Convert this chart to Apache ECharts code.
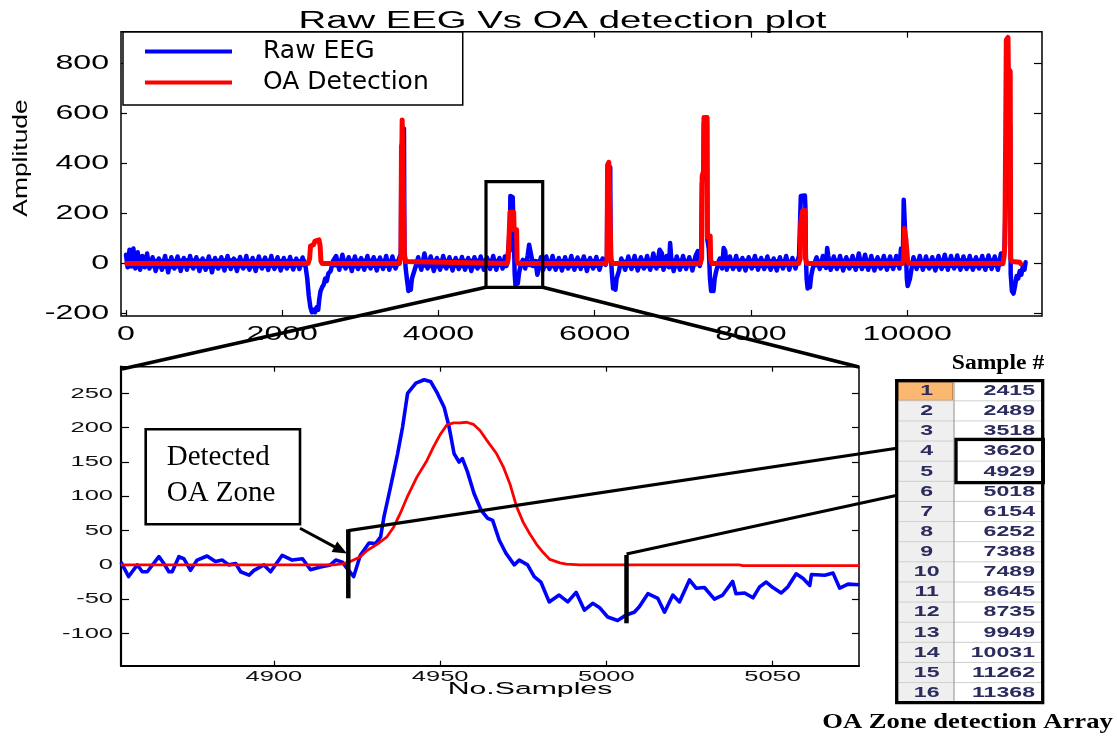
<!DOCTYPE html>
<html><head><meta charset="utf-8">
<script src="https://cdn.jsdelivr.net/npm/echarts@6/dist/echarts.min.js"></script>
<style>html,body{margin:0;padding:0;background:#fff}#main{width:1117px;height:740px}</style>
</head><body><div id="main"></div><script>
// ---------- data ----------
const topXTicks = [0, 2000, 4000, 6000, 8000, 10000];
const topYTicks = [-200, 0, 200, 400, 600, 800];
const zoomXTicks = [4900, 4950, 5000, 5050];
const zoomYTicks = [-100, -50, 0, 50, 100, 150, 200, 250];
const topXRange = [-64, 11725];
const topYRange = [-210, 928];
const zoomXRange = [4854, 5076];
const zoomYRange = [-147, 289];

const oaZoneIndex = [1, 2, 3, 4, 5, 6, 7, 8, 9, 10, 11, 12, 13, 14, 15, 16];
const oaZoneSamples = [2415, 2489, 3518, 3620, 4929, 5018, 6154, 6252, 7388, 7489, 8645, 8735, 9949, 10031, 11262, 11368];

// raw EEG trace (sample, amplitude)
const rawEEG = [
[0,35],[20,-15],[45,55],[70,-10],[95,60],[120,-20],[150,45],[180,-25],[210,30],[240,-15],[270,40],[300,-20],
[340,25],[380,-30],[420,20],[460,-25],[500,30],[540,-35],[580,25],[620,-20],[660,28],[700,-30],[740,22],[780,-25],[820,30],[860,-20],[900,25],[940,-30],[980,20],[1020,-25],[1060,28],[1100,-35],[1140,22],[1180,-20],[1220,25],[1260,-28],[1300,30],[1340,-22],[1380,20],[1420,-30],[1460,26],[1500,-20],[1540,30],[1580,-25],[1620,22],[1660,-30],[1700,28],[1740,-20],[1780,24],[1820,-26],[1860,30],[1900,-22],[1940,25],[1980,-28],[2020,22],[2060,-20],[2100,26],[2140,-24],[2180,20],[2220,-22],[2260,24],[2300,-15],
[2320,-60],[2340,-130],[2360,-175],[2380,-195],[2400,-185],[2420,-195],[2440,-175],[2460,-185],[2475,-140],[2490,-110],[2510,-95],[2530,-85],[2550,-60],[2570,-70],[2590,-40],[2620,-30],[2650,10],
[2690,30],[2730,-25],[2770,35],[2810,-20],[2850,25],[2890,-30],[2930,28],[2970,-22],[3010,22],[3050,-25],[3090,30],[3130,-20],[3170,25],[3210,-28],[3250,24],[3290,-22],[3330,30],[3370,-25],[3410,28],[3450,-20],[3490,15],
[3518,40],[3525,420],[3540,520],[3558,540],[3564,60],[3580,-20],[3595,-60],[3615,-110],[3630,-95],[3645,-105],[3660,-60],[3680,-40],[3700,-20],
[3740,25],[3780,-25],[3820,40],[3860,-20],[3900,28],[3940,-30],[3980,22],[4020,-25],[4060,30],[4100,-20],[4140,25],[4180,-28],[4220,22],[4260,-22],[4300,26],[4340,-25],[4380,22],[4420,-30],[4460,25],[4500,-20],[4540,28],[4580,-25],[4620,24],[4660,-22],[4700,30],[4740,-25],[4780,22],[4820,-20],[4850,28],[4870,-10],
[4880,15],[4895,60],[4905,105],[4912,50],[4920,270],[4935,275],[4950,265],[4960,140],[4968,60],[4975,-40],[4985,-86],[5000,-60],[5015,-80],[5030,-40],[5050,-10],[5080,15],[5110,-20],[5140,30],[5160,75],[5180,70],[5195,20],[5210,-10],[5240,10],[5265,-45],[5285,-20],[5310,25],
[5340,-25],[5380,28],[5420,-22],[5460,30],[5500,-25],[5540,22],[5580,-28],[5620,25],[5660,-20],[5700,30],[5740,-25],[5780,24],[5820,-22],[5860,28],[5900,-30],[5940,22],[5980,-20],[6020,26],[6060,-25],[6100,20],[6140,-5],
[6156,30],[6162,310],[6168,380],[6198,385],[6204,40],[6220,-40],[6235,-100],[6250,-85],[6265,-105],[6280,-60],[6310,-30],[6340,20],
[6390,-25],[6430,28],[6470,-22],[6510,30],[6550,-28],[6590,25],[6630,-20],[6670,30],[6710,-25],[6750,40],[6790,-20],[6830,55],[6860,40],[6880,-25],[6920,30],[6950,-15],[6965,82],[6980,20],[7010,-30],[7050,28],[7090,-25],[7130,30],[7170,-22],[7210,25],[7250,-28],[7290,30],[7320,50],[7345,-10],
[7362,30],[7372,320],[7392,360],[7397,560],[7436,565],[7442,95],[7460,60],[7475,-60],[7490,-110],[7505,-95],[7520,-110],[7535,-60],[7555,-30],
[7600,20],[7630,-20],[7650,62],[7670,50],[7690,-25],[7730,28],[7770,-22],[7810,30],[7850,-25],[7890,22],[7930,-28],[7970,25],[8010,-20],[8050,30],[8090,-25],[8130,22],[8170,-22],[8210,28],[8250,-25],[8290,20],[8330,-28],[8370,25],[8410,-20],[8450,30],[8490,-25],[8530,22],[8570,-20],[8600,15],
[8615,30],[8638,270],[8690,272],[8696,230],[8702,40],[8712,-60],[8725,-100],[8740,-80],[8755,-95],[8770,-50],[8790,-20],
[8840,25],[8880,-22],[8920,30],[8960,-18],[8975,62],[8990,30],[9020,-25],[9060,28],[9100,-22],[9140,30],[9180,-28],[9220,25],[9260,-20],[9300,30],[9340,-25],[9380,40],[9420,-22],[9460,35],[9500,-25],[9540,30],[9580,-28],[9620,25],[9660,-20],[9700,30],[9740,-25],[9780,28],[9820,-22],[9860,30],[9900,-20],[9920,60],[9935,20],
[9945,40],[9955,255],[9968,258],[9974,120],[9985,30],[9995,-60],[10005,-90],[10020,-95],[10035,-60],[10050,-30],
[10080,25],[10120,-22],[10160,30],[10200,-25],[10240,28],[10280,-20],[10320,25],[10360,-28],[10400,30],[10440,-22],[10480,35],[10520,-25],[10560,30],[10600,-20],[10640,32],[10680,-25],[10720,28],[10760,-22],[10800,30],[10840,-25],[10880,25],[10920,-20],[10960,30],[11000,-25],[11040,32],[11080,-22],[11120,28],[11160,-25],[11200,40],[11230,20],[11245,65],
[11258,60],[11266,320],[11272,560],[11300,600],[11318,550],[11324,-40],[11340,-110],[11360,-120],[11380,-90],[11400,-50],[11420,-60],[11440,-30],[11460,-45],[11480,-10],[11500,-25],[11515,5]
];

// dense noise floor of the raw EEG between artefacts: [sample, lower, upper]
const eegNoiseBand = [
  [[0,-20,40],[150,-20,40],[300,-18,20],[550,-22,18],[800,-18,22],[1050,-22,18],[1300,-18,22],[1550,-20,18],[1800,-18,20],[2050,-20,18],[2300,-12,18]],
  [[2650,-15,15],[2900,-20,20],[3150,-18,20],[3400,-18,18],[3490,-12,15]],
  [[3700,-15,15],[3950,-20,20],[4200,-18,18],[4450,-20,20],[4700,-18,20],[4880,-10,15]],
  [[5050,-12,12],[5300,-18,18],[5550,-20,18],[5800,-18,20],[6050,-18,18],[6140,-5,10]],
  [[6340,-15,15],[6600,-20,20],[6850,-18,22],[7100,-20,20],[7345,-10,15]],
  [[7560,-15,15],[7800,-20,20],[8050,-18,20],[8300,-20,18],[8600,-10,15]],
  [[8800,-15,15],[9050,-20,20],[9300,-18,20],[9550,-20,20],[9800,-18,20],[9935,-10,15]],
  [[10050,-15,15],[10300,-20,20],[10550,-18,22],[10800,-20,20],[11050,-18,22],[11240,-10,18]]
];

const oaDetection = [
[10,0],[2330,0],[2350,20],[2362,70],[2400,75],[2420,90],[2470,95],[2485,70],[2495,10],[2510,0],
[3500,0],[3520,30],[3526,470],[3532,480],[3535,575],[3560,580],[3564,30],[3580,8],[3600,0],
[4880,0],[4893,20],[4915,205],[4940,208],[4962,205],[4968,135],[5000,135],[5006,10],[5020,0],
[6140,0],[6158,15],[6164,395],[6180,405],[6202,400],[6208,20],[6225,0],
[7350,0],[7368,20],[7375,350],[7392,370],[7398,585],[7438,585],[7442,105],[7478,110],[7484,15],[7500,0],
[8610,0],[8630,20],[8636,160],[8655,165],[8660,210],[8692,212],[8698,20],[8715,0],
[9940,0],[9955,20],[9962,140],[9978,145],[9982,100],[9998,105],[10004,15],[10020,0],
[11225,0],[11240,30],[11250,80],[11262,85],[11268,895],[11290,905],[11294,780],[11318,770],[11324,20],[11340,8],[11440,5],[11450,0]
];

const rawEEGZoom = [
[4854,4],[4856.3,-17],[4858.9,0],[4860.4,-10],[4861.9,-10],[4865.4,12],[4866.9,2],[4868.4,-10],[4869.4,-10],[4871.4,12],[4872.9,9],[4874.9,-8],[4876.9,7],[4879.9,13],[4882.4,5],[4884.5,7],[4886.4,0],[4888.5,2],[4890,-10],[4892.5,-15],[4894,-8],[4897,0],[4899,-10],[4902.5,14],[4905.5,7],[4908.6,9],[4911,-7],[4914,-3],[4917,0],[4918.6,7],[4920.6,4],[4922,-5],[4924,-17],[4926,14],[4928.6,32],[4930.6,31],[4932.1,41],[4933.1,70],[4935.1,114],[4937.2,162],[4938.7,201],[4940.2,250],[4942.7,265],[4945.2,270],[4947.2,267],[4949.2,250],[4951.2,230],[4952.7,201],[4954.2,162],[4955.7,150],[4956.7,155],[4958.2,136],[4960.2,104],[4962.3,80],[4964.3,68],[4965.8,65],[4967.8,36],[4969.8,17],[4972.3,0],[4973.8,7],[4976.3,0],[4978.3,-17],[4980.3,-25],[4982.8,-54],[4985.8,-44],[4988.4,-54],[4990.9,-40],[4993.4,-66],[4995.9,-56],[4997.9,-62],[5000.4,-76],[5003.4,-81],[5005.9,-73],[5008.4,-69],[5009.9,-61],[5012.5,-42],[5015.5,-49],[5017.5,-69],[5020,-44],[5022,-54],[5025,-22],[5027,-34],[5029.5,-33],[5032.5,-50],[5035,-44],[5038,-24],[5039,-42],[5041.6,-41],[5044.1,-48],[5046.1,-32],[5048.1,-25],[5050.1,-33],[5052.6,-41],[5054.6,-32],[5057.1,-13],[5059.2,-20],[5061.2,-30],[5061.7,-14],[5065.7,-15],[5068.2,-12],[5070.2,-34],[5072.7,-28],[5076.1,-29]
];

const oaDetectionZoom = [
[4854,0],[4918,0],[4921,2],[4923,5],[4926,12],[4928,21],[4931,30],[4934,41],[4936,55],[4938,75],[4940,98],[4943,128],[4946,152],[4948,172],[4950,190],[4952,204],[4954,207],[4956,207],[4958,208],[4960,205],[4962,196],[4964,182],[4967,162],[4969,143],[4971,118],[4973,85],[4975,62],[4977,45],[4979,30],[4981,18],[4983,8],[4986,3],[4988,1],[4992,0],[5040,0],[5041,-1],[5076,-1]
];

// ---------- chart ----------
const SANS = '"Liberation Sans", Arial, Helvetica, sans-serif';
const SERIF = '"Liberation Serif", "Times New Roman", serif';
const BLUE = '#0000ff', RED = '#ff0000';
const chart = echarts.init(document.getElementById('main'));

function ax(grid, range, ticks, pos, tlen, line) {
  return {
    gridIndex: grid, type: 'value', min: range[0], max: range[1], position: pos,
    axisLine: { show: !!line, onZero: false, lineStyle: { color: '#000', width: line || 1 } },
    axisTick: { show: true, inside: true, length: tlen, customValues: ticks, lineStyle: { color: '#000', width: 1.2 } },
    axisLabel: { show: false }, splitLine: { show: false }
  };
}

const option = {
  animation: false,
  backgroundColor: '#fff',
  grid: [
    { left: 121, top: 31.7, width: 921, height: 284.3, show: true, borderColor: '#000', borderWidth: 1.5 },
    { left: 121, top: 366.7, width: 738, height: 299, show: true, borderColor: '#000', borderWidth: 1.5 }
  ],
  legend: {
    data: ['Raw EEG', 'OA Detection'],
    orient: 'vertical', left: 123, top: 32,
    backgroundColor: '#fff', borderColor: '#000', borderWidth: 1.5,
    padding: [7, 34, 10, 22],
    icon: 'rect',
    itemWidth: 87, itemHeight: 4, itemGap: 6,
    selectedMode: false,
    formatter: n => '{t|' + n + '}',
    textStyle: { rich: { t: { fontFamily: '"DejaVu Sans", sans-serif', fontSize: 25, color: '#000', padding: [0, 0, 0, 26], lineHeight: 22 } } }
  },
  xAxis: [
    ax(0, topXRange, topXTicks, 'bottom', 6),
    ax(0, topXRange, topXTicks, 'top', 6),
    ax(1, zoomXRange, zoomXTicks, 'bottom', 5, 2.2),
    ax(1, zoomXRange, zoomXTicks, 'top', 5)
  ],
  yAxis: [
    ax(0, topYRange, topYTicks, 'left', 6),
    ax(0, topYRange, topYTicks, 'right', 8),
    ax(1, zoomYRange, zoomYTicks, 'left', 8, 2.2),
    ax(1, zoomYRange, zoomYTicks, 'right', 7)
  ],
  series: [
    { type: 'line', name: 'Raw EEG', xAxisIndex: 0, yAxisIndex: 0, data: rawEEG, symbol: 'none', silent: true, z: 2,
      itemStyle: { color: BLUE }, lineStyle: { color: BLUE, width: 4.5, join: 'round', cap: 'round' } },
    { type: 'custom', xAxisIndex: 0, yAxisIndex: 0, silent: true, z: 2,
      data: eegNoiseBand.map(s => [s[0][0], 0]),
      renderItem: function (params, api) {
        const seg = eegNoiseBand[params.dataIndex];
        const pts = seg.map(p => api.coord([p[0], p[2]]))
          .concat(seg.slice().reverse().map(p => api.coord([p[0], p[1]])));
        return { type: 'polygon', shape: { points: pts }, style: { fill: BLUE } };
      } },
    { type: 'line', name: 'OA Detection', xAxisIndex: 0, yAxisIndex: 0, data: oaDetection, symbol: 'none', silent: true, z: 3,
      itemStyle: { color: RED }, lineStyle: { color: RED, width: 5, join: 'round', cap: 'round' } },
    { type: 'line', name: 'Raw EEG', xAxisIndex: 2, yAxisIndex: 2, data: rawEEGZoom, symbol: 'none', silent: true, z: 2,
      itemStyle: { color: BLUE }, lineStyle: { color: BLUE, width: 3.6, join: 'round' } },
    { type: 'line', name: 'OA Detection', xAxisIndex: 2, yAxisIndex: 2, data: oaDetectionZoom, symbol: 'none', silent: true, z: 3,
      itemStyle: { color: RED }, lineStyle: { color: RED, width: 2.8, join: 'round' } }
  ]
};
chart.setOption(option);

// ---------- text & annotations ----------
function T(x, y, text, o) {
  const al = o.align || 'center';
  return { type: 'text', x: x, y: y, rotation: o.rot || 0, scaleX: o.sx || 1, scaleY: o.sy || 1, z: o.z || 100, silent: true,
    style: { text: text, x: 0, y: 0, fill: o.color || '#000', fontSize: o.size, fontFamily: o.family || SANS,
      fontWeight: o.weight || 'normal', textAlign: al, align: al, textVerticalAlign: 'middle', verticalAlign: 'middle' } };
}
function L(x1, y1, x2, y2, w) {
  return { type: 'line', z: 100, silent: true, shape: { x1: x1, y1: y1, x2: x2, y2: y2 }, style: { stroke: '#000', lineWidth: w, lineCap: 'butt' } };
}
function R(x, y, w, h, o) {
  return { type: 'rect', z: o.z || 100, silent: true, shape: { x: x, y: y, width: w, height: h },
    style: { fill: o.fill || 'none', stroke: o.stroke || null, lineWidth: o.lw || 0 } };
}

const g = [];
// tick labels placed through the axes' scales
topXTicks.forEach(v => g.push(T(chart.convertToPixel({ xAxisIndex: 0 }, v), 334, String(v), { size: 21, sx: 1.53 })));
topYTicks.forEach(v => g.push(T(109, chart.convertToPixel({ yAxisIndex: 0 }, v), String(v), { size: 21, sx: 1.53, align: 'right' })));
zoomXTicks.forEach(v => g.push(T(chart.convertToPixel({ xAxisIndex: 2 }, v), 677, String(v), { size: 15, sx: 1.7, color: '#111' })));
zoomYTicks.forEach(v => g.push(T(113, chart.convertToPixel({ yAxisIndex: 2 }, v), String(v), { size: 15, sx: 1.7, align: 'right', color: '#111' })));

// titles
g.push(T(562.5, 21.5, 'Raw EEG Vs OA detection plot', { size: 23.5, sx: 1.63 }));
g.push(T(21, 158, 'Amplitude', { size: 22, rot: Math.PI / 2, sx: 1.2, sy: 0.95 }));
g.push(T(530, 689, 'No.Samples', { size: 16.8, sx: 1.8 }));

// zoom box and connector lines
g.push(R(486, 181.7, 56.7, 105.6, { stroke: '#000', lw: 3.2 }));
g.push(L(486, 287.3, 122, 369, 3.5));
g.push(L(542.7, 287.3, 859, 367, 3.5));

// Detected OA zone annotation
g.push(R(145.7, 429.3, 154.3, 95, { fill: '#fff', stroke: '#000', lw: 2.6 }));
g.push(T(166.7, 457.5, 'Detected', { size: 29, family: SERIF, align: 'left' }));
g.push(T(166.7, 493.5, 'OA Zone', { size: 29, family: SERIF, align: 'left' }));
g.push(L(300, 528.3, 336, 547.6, 3));
g.push({ type: 'polygon', z: 100, silent: true, shape: { points: [[347, 553.5], [331.6, 552], [337.2, 541.4]] }, style: { fill: '#000' } });
g.push(L(348.3, 529.3, 348.3, 598.3, 4.5));
g.push(L(348.3, 530.7, 955, 439.5, 3.2));
g.push(L(626.5, 555, 626.5, 623.3, 4.5));
g.push(L(626.5, 554, 956, 482.5, 3.2));

// detection array table
const tX = 896.7, tY = 380.7, tW = 146, rowH = 20.125, colX = 954;
g.push(R(tX, tY, tW, rowH * oaZoneIndex.length, { fill: '#fff', z: 100 }));
g.push(R(tX, tY, colX - tX, rowH * oaZoneIndex.length, { fill: '#efefef', z: 100 }));
oaZoneIndex.forEach((idx, i) => {
  const y = tY + i * rowH;
  if (i === 0) g.push(R(tX + 1.5, y + 1.5, colX - tX - 3, rowH - 2, { fill: '#fbb870', stroke: '#c88a4a', lw: 1, z: 101 }));
  g.push({ type: 'line', z: 101, silent: true, shape: { x1: tX, y1: y + rowH, x2: tX + tW, y2: y + rowH }, style: { stroke: '#cfcfcf', lineWidth: 1 } });
  g.push(T(926.7, y + rowH / 2 + 0.5, String(idx), { size: 14, sx: 1.65, color: '#2b2b5e', weight: 'bold', z: 102 }));
  g.push(T(1035, y + rowH / 2 + 0.5, String(oaZoneSamples[i]), { size: 14, sx: 1.65, color: '#2b2b5e', weight: 'bold', align: 'right', z: 102 }));
});
g.push({ type: 'line', z: 101, silent: true, shape: { x1: colX, y1: tY, x2: colX, y2: tY + rowH * 16 }, style: { stroke: '#a0a0a0', lineWidth: 1.2 } });
g.push(R(tX, tY, tW, rowH * 16, { stroke: '#000', lw: 3.3, z: 103 }));
g.push(R(956, 439.3, 87.3, 43.4, { stroke: '#000', lw: 3.3, z: 104 }));
g.push(T(998, 363.5, 'Sample #', { size: 20, sx: 1.18, family: SERIF, weight: 'bold' }));
g.push(T(967.5, 722.5, 'OA Zone detection Array', { size: 22, sx: 1.21, family: SERIF, weight: 'bold' }));

chart.setOption({ graphic: g });
</script></body></html>
